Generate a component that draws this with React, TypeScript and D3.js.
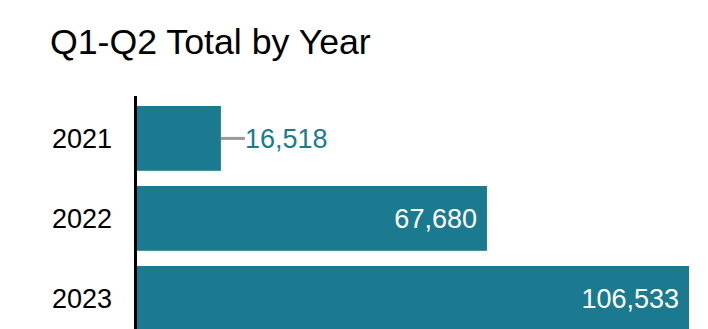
import React from "react";
import * as d3 from "d3";

const years = ["2021", "2022", "2023"];
const totals = [16518, 67680, 106533];
const title = "Q1-Q2 Total by Year";

const W = 708;
const H = 329;
const BAR = "#1b7a8f";

export default function App() {
  const x0 = 135;
  const x = d3.scaleLinear().domain([0, 106533]).range([x0, 689]);
  const y = d3
    .scaleBand<string>()
    .domain(years)
    .range([98.4, 338.4])
    .paddingInner(0.19)
    .paddingOuter(0.095);
  const fmt = d3.format(",");
  const font = "Arial, 'Liberation Sans', sans-serif";

  return (
    <div style={{ position: "absolute", left: 0, top: 0 }}>
      <svg width={W} height={H} style={{ display: "block" }}>
        <text x={50} y={54} fontFamily={font} fontSize={35.7} fill="#000">
          {title}
        </text>
        {years.map((yr, i) => {
          const v = totals[i];
          const y0 = y(yr)!;
          const bh = y.bandwidth();
          const cy = y0 + bh / 2;
          const xe = x(v);
          const inside = xe - x0 > 150;
          return (
            <g key={yr}>
              <rect x={x0} y={y0} width={xe - x0} height={bh} fill={BAR} />
              <text
                x={112}
                y={cy}
                dy="0.35em"
                textAnchor="end"
                fontFamily={font}
                fontSize={27}
                fill="#000"
              >
                {yr}
              </text>
              {inside ? (
                <text
                  x={xe - 10}
                  y={cy}
                  dy="0.35em"
                  textAnchor="end"
                  fontFamily={font}
                  fontSize={27}
                  fill="#fff"
                >
                  {fmt(v)}
                </text>
              ) : (
                <g>
                  <line x1={xe} x2={xe + 24} y1={cy} y2={cy} stroke="#999" strokeWidth={3} />
                  <text
                    x={xe + 24}
                    y={cy}
                    dy="0.35em"
                    fontFamily={font}
                    fontSize={27}
                    fill={BAR}
                  >
                    {fmt(v)}
                  </text>
                </g>
              )}
            </g>
          );
        })}
        <line x1={135.5} x2={135.5} y1={96} y2={H} stroke="#000" strokeWidth={3} />
      </svg>
    </div>
  );
}
